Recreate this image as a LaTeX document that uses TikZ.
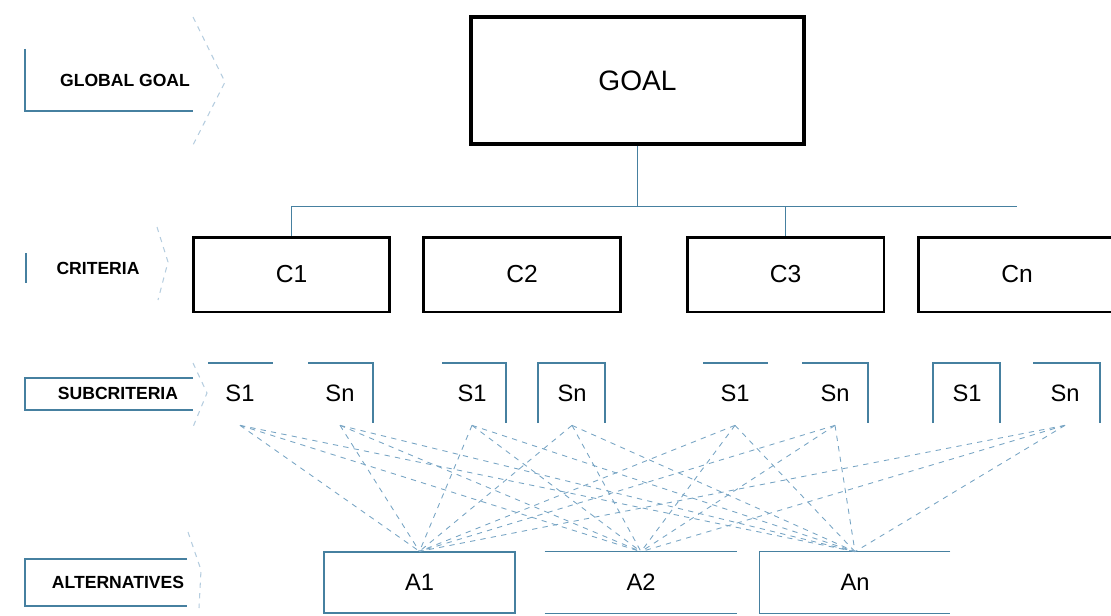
\documentclass[tikz,border=0pt]{standalone}
\usepackage{fontspec}
\setmainfont{Liberation Sans}
\usepackage{tikz}

\definecolor{boxblue}{RGB}{70,128,160}
\definecolor{linkblue}{RGB}{120,165,196}

\tikzset{
	goalbox/.style={draw=black, line width=2pt, rectangle, inner sep=0pt, minimum width=6.66cm, minimum height=2.54cm, font=\fontsize{16}{16}\selectfont},
	critbox/.style={draw=black, line width=1.7pt, rectangle, inner sep=0pt, minimum width=3.94cm, minimum height=1.5cm, font=\fontsize{14}{14}\selectfont},
	subtxt/.style={inner sep=0pt, minimum height=1.28cm, font=\fontsize{13.5}{13.5}\selectfont},
	alttxt/.style={inner sep=0pt, minimum height=1.22cm, font=\fontsize{13.5}{13.5}\selectfont},
	lvltxt/.style={inner sep=0pt, font=\fontsize{10}{10}\selectfont\bfseries},
	thinline/.style={draw=boxblue, line width=0.75pt},
	hint/.style={draw=linkblue!55, line width=0.6pt, dashed},
	link/.style={draw=linkblue, line width=0.5pt, dashed}
}

\begin{document}
\begin{tikzpicture}[x=0.02cm, y=-0.02cm]
						\useasboundingbox (0,0) rectangle (1111,615);
						\node[goalbox] (goal) at (637.5,80.5) {GOAL};
						\node[critbox] (c1) at (291.5,274.5) {C1};
						\node[critbox] (c2) at (522,274.5) {C2};
						\node[critbox] (c3) at (785.5,274.5) {C3};
						\node[critbox] (cn) at (1017,274.5) {Cn};
						\draw[thinline] (goal.south) -- ++(0,61) coordinate (hub);
						\draw[thinline] (c1.north) -- (c1.north |- hub) -- (cn.north |- hub);
						\draw[thinline] (c3.north) -- (c3.north |- hub);
						\node[subtxt] (s11) at (240,393) {S1};
						\node[subtxt] (s1n) at (340,393) {Sn};
						\node[subtxt] (s21) at (472,393) {S1};
						\node[subtxt] (s2n) at (572,393) {Sn};
						\node[subtxt] (s31) at (735,393) {S1};
						\node[subtxt] (s3n) at (835,393) {Sn};
						\node[subtxt] (s41) at (967,393) {S1};
						\node[subtxt] (s4n) at (1065,393) {Sn};
						\draw[thinline] (208,363) -- (273,363);
						\draw[thinline] (308,363) -- (373,363) -- (373,423);
						\draw[thinline] (442,363) -- (506,363) -- (506,423);
						\draw[thinline] (538,423) -- (538,363) -- (605,363) -- (605,423);
						\draw[thinline] (703,363) -- (768,363);
						\draw[thinline] (802,363) -- (868,363) -- (868,423);
						\draw[thinline] (933,423) -- (933,363) -- (1000,363) -- (1000,423);
						\draw[thinline] (1033,363) -- (1100,363) -- (1100,423);
						\node[alttxt, thinline, minimum width=3.82cm] (a1) at (419.5,582.5) {A1};
						\node[alttxt, minimum width=3.84cm] (a2) at (641,582.5) {A2};
						\node[alttxt, minimum width=3.8cm] (an) at (855,582.5) {An};
						\draw[thinline] (a2.north west) -- (a2.north east);
						\draw[thinline] (a2.south west) -- (a2.south east);
						\draw[thinline] (an.north east) -- (an.north west) -- (an.south west) -- (an.south east);
						\foreach \s in {s11,s1n,s21,s2n,s31,s3n,s4n}
							\foreach \a in {a1,a2,an}
								\draw[link] (\s.south) -- (\a.north);
						\node[lvltxt] (lgoal) at (125,80) {GLOBAL GOAL};
						\node[lvltxt] (lcrit) at (98,268) {CRITERIA};
						\node[lvltxt] (lsub) at (118,393) {SUBCRITERIA};
						\node[lvltxt] (lalt) at (118,582) {ALTERNATIVES};
						\draw[thinline] (25,49) -- (25,111) -- (193,111);
						\draw[boxblue, line width=1.4pt] (26,253) -- (26,283);
						\draw[thinline] (193,378) -- (25,378) -- (25,410) -- (193,410);
						\draw[thinline] (187,559) -- (25,559) -- (25,606) -- (187,606);
						\draw[hint] (193,17) -- (225,82) -- (193,145);
						\draw[hint] (157,227) -- (168,262) -- (158,300);
						\draw[hint] (193,363) -- (207,393) -- (193,427);
						\draw[hint] (188,532) -- (201,570) -- (199,608);
					\end{tikzpicture}
\end{document}
